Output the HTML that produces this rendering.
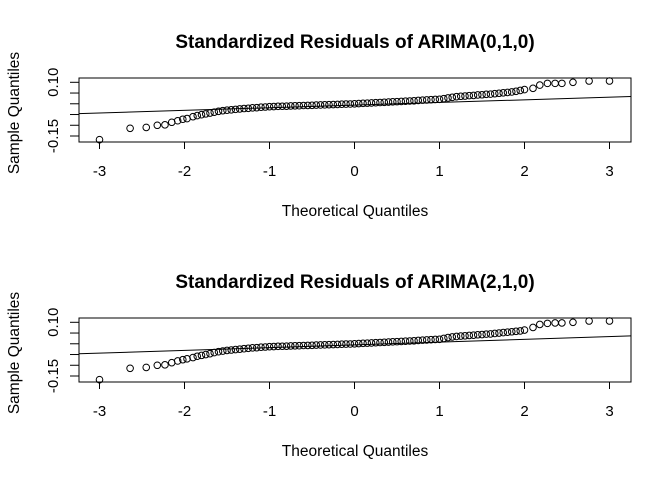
<!DOCTYPE html>
<html><head><meta charset="utf-8"><style>
body{margin:0;background:#fff}
svg text{font-family:"Liberation Sans",Arial,sans-serif;fill:#000}
</style></head><body>
<svg id="c" width="672" height="480" xmlns="http://www.w3.org/2000/svg"></svg>
<script>
const xTicks=[-3,-2,-1,0,1,2,3];
const yTickVals=[0.10,0.05,0.00,-0.05,-0.10,-0.15];
const yTickLabels=["0.10","","","","","-0.15"];
const titles=["Standardized Residuals of ARIMA(0,1,0)","Standardized Residuals of ARIMA(2,1,0)"];
const theoQ=[-3,-2.64,-2.45,-2.32,-2.23,-2.15,-2.08,-2.02,-1.97,
-1.90,-1.85,-1.80,-1.75,-1.70,-1.65,-1.60,-1.55,-1.50,-1.45,-1.40,-1.35,-1.30,-1.25,-1.20,-1.15,-1.10,-1.05,-1.00,
-0.95,-0.90,-0.85,-0.80,-0.75,-0.70,-0.65,-0.60,-0.55,-0.50,-0.45,-0.40,-0.35,-0.30,-0.25,-0.20,-0.15,-0.10,-0.05,0,
0.05,0.10,0.15,0.20,0.25,0.30,0.35,0.40,0.45,0.50,0.55,0.60,0.65,0.70,0.75,0.80,0.85,0.90,0.95,1.00,
1.05,1.10,1.15,1.20,1.25,1.30,1.35,1.40,1.45,1.50,1.55,1.60,1.65,1.70,1.75,1.80,1.85,1.90,1.95,2.00,
2.10,2.18,2.27,2.36,2.44,2.57,2.76,3.0];
const sample1=[-0.167,-0.114,-0.110,-0.100,-0.098,-0.086,-0.079,-0.072,-0.069,
-0.060,-0.055,-0.051,-0.047,-0.043,-0.039,-0.035,-0.032,-0.030,-0.028,-0.026,-0.024,-0.022,-0.021,-0.019,-0.018,-0.016,-0.015,-0.0135,
-0.013,-0.012,-0.0115,-0.011,-0.010,-0.0095,-0.009,-0.008,-0.0075,-0.007,-0.006,-0.0055,-0.005,-0.004,-0.0035,-0.003,-0.002,-0.0015,-0.001,0,
0.001,0.002,0.003,0.004,0.005,0.006,0.007,0.008,0.009,0.010,0.011,0.012,0.013,0.014,0.0155,0.017,0.018,0.019,0.020,0.021,
0.024,0.027,0.030,0.033,0.035,0.036,0.038,0.039,0.041,0.042,0.044,0.045,0.047,0.049,0.051,0.053,0.055,0.058,0.062,0.066,
0.072,0.087,0.095,0.095,0.095,0.100,0.106,0.106];
const sample2=[-0.167,-0.114,-0.110,-0.100,-0.098,-0.088,-0.080,-0.074,-0.070,
-0.064,-0.058,-0.054,-0.050,-0.046,-0.041,-0.037,-0.034,-0.031,-0.029,-0.027,-0.025,-0.023,-0.021,-0.019,-0.018,-0.016,-0.015,-0.0135,
-0.013,-0.012,-0.0115,-0.011,-0.010,-0.0095,-0.009,-0.008,-0.0075,-0.007,-0.006,-0.0055,-0.005,-0.004,-0.0035,-0.003,-0.002,-0.0015,-0.001,0,
0.001,0.002,0.003,0.004,0.005,0.006,0.007,0.008,0.009,0.010,0.011,0.012,0.013,0.014,0.0155,0.017,0.018,0.019,0.020,0.021,
0.025,0.029,0.032,0.034,0.036,0.037,0.039,0.040,0.042,0.043,0.045,0.046,0.048,0.050,0.052,0.054,0.056,0.058,0.060,0.064,
0.076,0.090,0.095,0.097,0.097,0.100,0.106,0.106];
const samples=[sample1,sample2];
const lineIntercepts=[-0.006,-0.005];
const lineSlopes=[0.0123,0.0128];

const svg=document.getElementById('c');
const NS='http://www.w3.org/2000/svg';
function mk(tag,attrs,parent){const e=document.createElementNS(NS,tag);for(const k in attrs)e.setAttribute(k,attrs[k]);(parent||svg).appendChild(e);return e;}
const L=79,R=631,qMin=-3.247,qMax=3.247;
function xs(q){return 99.5+(q+3)*85;}
for(let p=0;p<2;p++){
  const off=p*240, top=78+off, bot=142+off;
  const ys=v=>82.3+off+(0.10-v)*214.8;
  const g=mk('g',{});
  
  
  const t=mk('text',{x:355,y:48+off,'text-anchor':'middle','font-size':'19','font-weight':'bold'},g);
  t.textContent=titles[p];
  
  
  const box=mk('rect',{x:L,y:top,width:R-L,height:bot-top,fill:'none',stroke:'#000','stroke-width':1},g);
  
  
  xTicks.forEach(v=>{
    const x=xs(v);
    const tk=mk('line',{x1:x,x2:x,y1:bot,y2:bot+7,stroke:'#000'},g);
    
    
    const tl=mk('text',{x:x,y:176+off,'text-anchor':'middle','font-size':'15'},g);
    tl.textContent=v;
    
    
  });
  yTickVals.forEach((v,i)=>{
    const y=ys(v);
    const tk=mk('line',{x1:L-9,x2:L,y1:y,y2:y,stroke:'#000'},g);
    
    
    if(yTickLabels[i]){
      const tl=mk('text',{x:0,y:0,'text-anchor':'middle','font-size':'15',transform:`translate(58,${y}) rotate(-90)`},g);
      tl.textContent=yTickLabels[i];
      
      
    }
  });
  const xt=mk('text',{x:355,y:216+off,'text-anchor':'middle','font-size':'15.5'},g);
  xt.textContent='Theoretical Quantiles';
  
  
  const yt=mk('text',{x:0,y:0,'text-anchor':'middle','font-size':'15.5',transform:`translate(19,${113+off}) rotate(-90)`},g);
  yt.textContent='Sample Quantiles';
  
  
  const a=lineIntercepts[p],b=lineSlopes[p];
  const ln=mk('line',{x1:L,x2:R,y1:ys(a+b*qMin),y2:ys(a+b*qMax),stroke:'#000','stroke-width':1},g);
  
  
  const s=samples[p];
  theoQ.forEach((q,i)=>{
    const c=mk('circle',{cx:xs(q),cy:ys(s[i]),r:3.3,fill:'none',stroke:'#000','stroke-width':1},g);
    
    
  });
}
</script>
</body></html>
